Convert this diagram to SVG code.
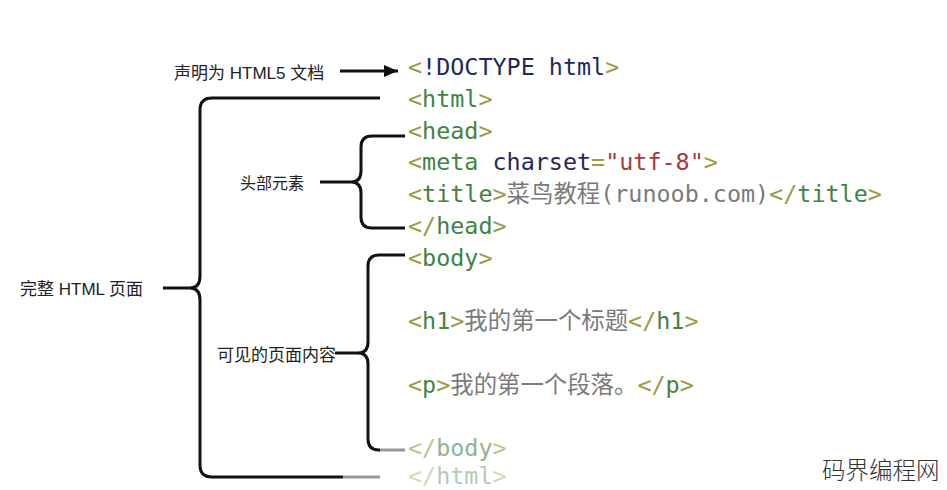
<svg xmlns="http://www.w3.org/2000/svg" width="947" height="490" viewBox="0 0 947 490">
<defs>
<marker id="arrow" viewBox="0 0 14 12" refX="14" refY="6" markerWidth="14" markerHeight="12" markerUnits="userSpaceOnUse" orient="auto">
<path d="M0,0 L14,6 L0,12 Z" fill="#111"/>
</marker>
</defs>
<style>
.lbl{font-family:"Liberation Sans","Noto Sans CJK SC",sans-serif;font-size:17px;fill:#222}
.code{font-family:"DejaVu Sans Mono","Noto Sans CJK SC",monospace;font-size:23.4px}
.p{fill:#9c9a45}
.t{fill:#3f8443}
.k{fill:#1f2a5c}
.s{fill:#a63a3f}
.c{fill:#7a7a7a}
.br{fill:none;stroke:#111;stroke-width:3;stroke-linecap:butt}
.fade{fill:none;stroke:#999;stroke-width:3}
.wm{font-family:"Noto Sans CJK SC",sans-serif;font-size:23.5px;font-weight:300;fill:#333}
</style>
<rect width="947" height="490" fill="#fff"/>
<g id="connectors">
<line x1="340" y1="71" x2="398" y2="71" stroke="#111" stroke-width="3" marker-end="url(#arrow)"/>
<path class="br" d="M380,98 H212 Q200,98 200,110 V276 Q200,288 190,288 Q200,288 200,300 V465 Q200,477 212,477 H343"/>
<path class="fade" d="M343,477 H380"/>
<path class="br" d="M163,288 H190"/>
<path class="br" d="M405,136 H372 Q361,136 361,147 V171 Q361,182 351,182 Q361,182 361,193 V217 Q361,228 372,228 H405"/>
<path class="br" d="M320,182 H351"/>
<path class="br" d="M405,255 H379 Q368,255 368,266 V342 Q368,353 358,353 Q368,353 368,364 V439 Q368,450 379,450 H380"/>
<path class="fade" d="M380,450 H405"/>
<path class="br" d="M335,353 H358"/>
</g>
<g id="label-doctype"><text class="lbl" x="174" y="79">声明为 HTML5 文档</text></g>
<g id="label-head"><text class="lbl" x="240" y="189" style="font-size:16px">头部元素</text></g>
<g id="label-html"><text class="lbl" x="20" y="295">完整 HTML 页面</text></g>
<g id="label-body"><text class="lbl" x="217" y="361">可见的页面内容</text></g>
<g id="code">
<text class="code" x="408" y="75"><tspan class="p">&lt;</tspan><tspan class="k">!DOCTYPE html</tspan><tspan class="p">&gt;</tspan></text>
<text class="code" x="408" y="106.75"><tspan class="p">&lt;</tspan><tspan class="t">html</tspan><tspan class="p">&gt;</tspan></text>
<text class="code" x="408" y="138.5"><tspan class="p">&lt;</tspan><tspan class="t">head</tspan><tspan class="p">&gt;</tspan></text>
<text class="code" x="408" y="170.25"><tspan class="p">&lt;</tspan><tspan class="t">meta</tspan><tspan class="k"> charset</tspan><tspan class="p">=</tspan><tspan class="s">"utf-8"</tspan><tspan class="p">&gt;</tspan></text>
<text class="code" x="408" y="202"><tspan class="p">&lt;</tspan><tspan class="t">title</tspan><tspan class="p">&gt;</tspan><tspan class="c">菜鸟教程(runoob.com)</tspan><tspan class="p">&lt;/</tspan><tspan class="t">title</tspan><tspan class="p">&gt;</tspan></text>
<text class="code" x="408" y="233.75"><tspan class="p">&lt;/</tspan><tspan class="t">head</tspan><tspan class="p">&gt;</tspan></text>
<text class="code" x="408" y="265.5"><tspan class="p">&lt;</tspan><tspan class="t">body</tspan><tspan class="p">&gt;</tspan></text>
<text class="code" x="408" y="329"><tspan class="p">&lt;</tspan><tspan class="t">h1</tspan><tspan class="p">&gt;</tspan><tspan class="c">我的第一个标题</tspan><tspan class="p">&lt;/</tspan><tspan class="t">h1</tspan><tspan class="p">&gt;</tspan></text>
<text class="code" x="408" y="392.5"><tspan class="p">&lt;</tspan><tspan class="t">p</tspan><tspan class="p">&gt;</tspan><tspan class="c">我的第一个段落。</tspan><tspan class="p">&lt;/</tspan><tspan class="t">p</tspan><tspan class="p">&gt;</tspan></text>
<text class="code" x="408" y="456" opacity="0.6"><tspan class="p">&lt;/</tspan><tspan class="t">body</tspan><tspan class="p">&gt;</tspan></text>
<text class="code" x="408" y="484" opacity="0.4"><tspan class="p">&lt;/</tspan><tspan class="t">html</tspan><tspan class="p">&gt;</tspan></text>
</g>
<g id="watermark"><text class="wm" x="822" y="479">码界编程网</text></g>
</svg>
